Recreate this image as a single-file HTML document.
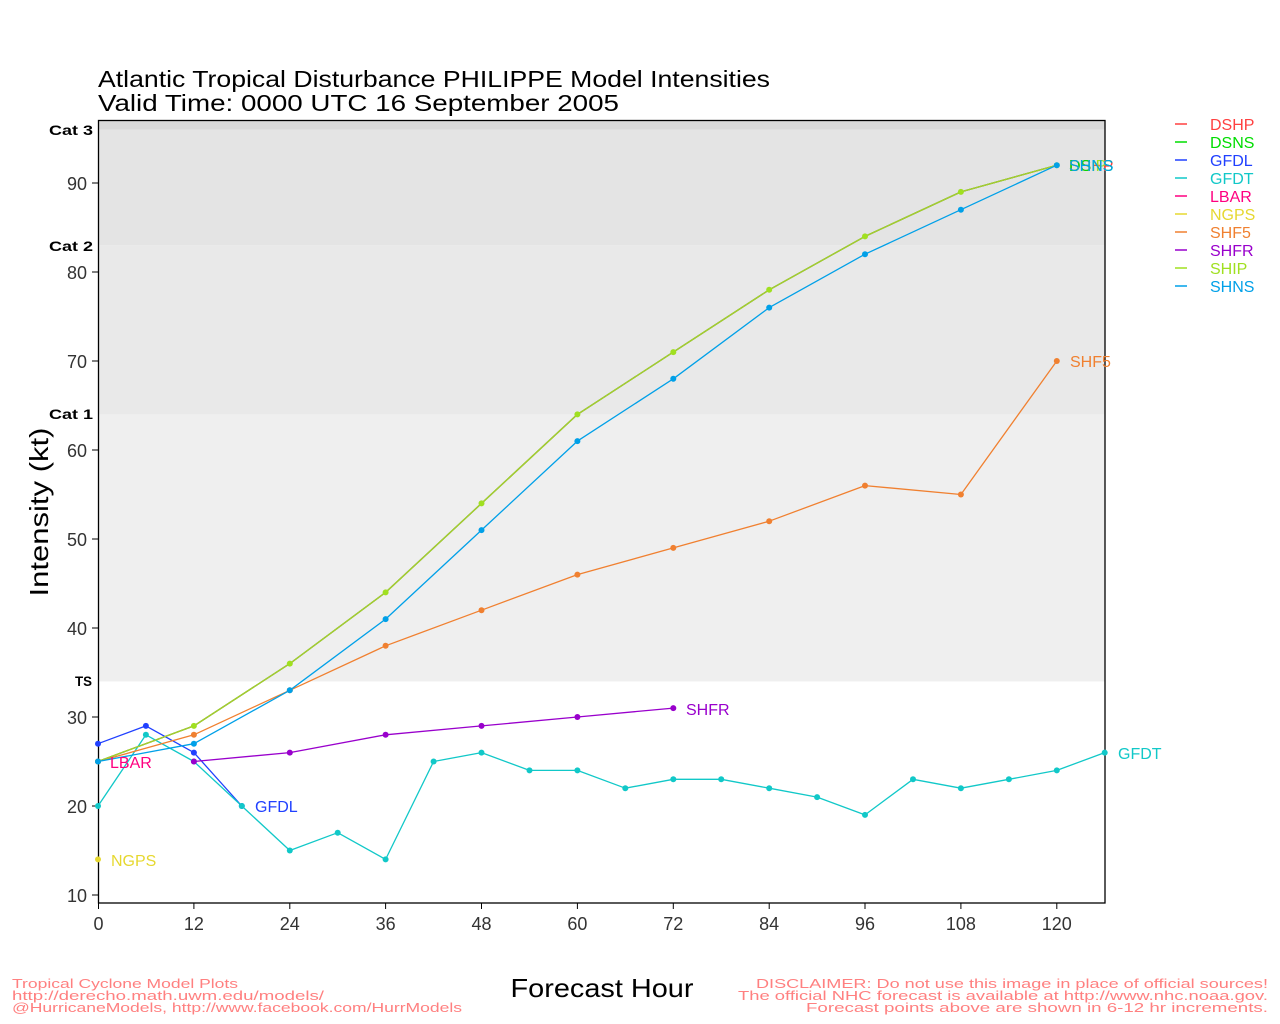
<!DOCTYPE html>
<html><head><meta charset="utf-8"><style>
html,body{margin:0;padding:0;background:#fff;}
svg{display:block;}
text{font-family:"Liberation Sans","DejaVu Sans",sans-serif;}
</style></head><body>
<svg width="1280" height="1024" viewBox="0 0 1280 1024" xmlns="http://www.w3.org/2000/svg">
<rect width="1280" height="1024" fill="#fff"/>
<!-- title -->
<text x="98" y="87" font-size="23" fill="#000" textLength="672" lengthAdjust="spacingAndGlyphs">Atlantic Tropical Disturbance PHILIPPE Model Intensities</text>
<text x="98" y="111" font-size="23" fill="#000" textLength="521" lengthAdjust="spacingAndGlyphs">Valid Time: 0000 UTC 16 September 2005</text>
<!-- bands -->
<rect x="98" y="120" width="1007" height="9.6" fill="#d9d9d9"/>
<rect x="98" y="129.6" width="1007" height="115.7" fill="#e4e4e4"/>
<rect x="98" y="245.3" width="1007" height="169.1" fill="#e9e9e9"/>
<rect x="98" y="414.4" width="1007" height="267" fill="#efefef"/>
<!-- frame -->
<rect x="98.5" y="120.5" width="1006.5" height="782.5" fill="none" stroke="#000" stroke-width="1.3"/>
<!-- cat labels -->
<g font-size="14" font-weight="bold" fill="#000">
<text x="49" y="135" textLength="44" lengthAdjust="spacingAndGlyphs">Cat 3</text>
<text x="49" y="251" textLength="44" lengthAdjust="spacingAndGlyphs">Cat 2</text>
<text x="49" y="419" textLength="44" lengthAdjust="spacingAndGlyphs">Cat 1</text>
<text x="75" y="686" textLength="17" lengthAdjust="spacingAndGlyphs">TS</text>
</g>
<!-- y ticks -->
<g stroke="#000" stroke-width="1">
<line x1="92" y1="183.0" x2="98" y2="183.0"/>
<line x1="92" y1="272.0" x2="98" y2="272.0"/>
<line x1="92" y1="361.0" x2="98" y2="361.0"/>
<line x1="92" y1="450.0" x2="98" y2="450.0"/>
<line x1="92" y1="539.0" x2="98" y2="539.0"/>
<line x1="92" y1="628.0" x2="98" y2="628.0"/>
<line x1="92" y1="717.0" x2="98" y2="717.0"/>
<line x1="92" y1="806.0" x2="98" y2="806.0"/>
<line x1="92" y1="895.0" x2="98" y2="895.0"/>
</g>
<g font-size="18" fill="#333" text-anchor="end">
<text x="87" y="190">90</text>
<text x="87" y="279">80</text>
<text x="87" y="368">70</text>
<text x="87" y="457">60</text>
<text x="87" y="546">50</text>
<text x="87" y="635">40</text>
<text x="87" y="724">30</text>
<text x="87" y="813">20</text>
<text x="87" y="902">10</text>
</g>
<!-- x ticks -->
<g stroke="#000" stroke-width="1">
<line x1="98.5" y1="903" x2="98.5" y2="909"/>
<line x1="193.9" y1="903" x2="193.9" y2="909"/>
<line x1="289.8" y1="903" x2="289.8" y2="909"/>
<line x1="385.6" y1="903" x2="385.6" y2="909"/>
<line x1="481.5" y1="903" x2="481.5" y2="909"/>
<line x1="577.4" y1="903" x2="577.4" y2="909"/>
<line x1="673.3" y1="903" x2="673.3" y2="909"/>
<line x1="769.2" y1="903" x2="769.2" y2="909"/>
<line x1="865" y1="903" x2="865" y2="909"/>
<line x1="960.9" y1="903" x2="960.9" y2="909"/>
<line x1="1056.8" y1="903" x2="1056.8" y2="909"/>
</g>
<g font-size="18" fill="#333" text-anchor="middle">
<text x="98.5" y="930">0</text>
<text x="193.9" y="930">12</text>
<text x="289.8" y="930">24</text>
<text x="385.6" y="930">36</text>
<text x="481.5" y="930">48</text>
<text x="577.4" y="930">60</text>
<text x="673.3" y="930">72</text>
<text x="769.2" y="930">84</text>
<text x="865" y="930">96</text>
<text x="960.9" y="930">108</text>
<text x="1056.8" y="930">120</text>
</g>
<!-- axis titles -->
<text x="48" y="512" font-size="26" fill="#000" text-anchor="middle" transform="rotate(-90 48 512)" textLength="169" lengthAdjust="spacingAndGlyphs">Intensity (kt)</text>
<text x="602" y="997" font-size="26" fill="#000" text-anchor="middle" textLength="183" lengthAdjust="spacingAndGlyphs">Forecast Hour</text>

<!-- series -->
<g fill="none" stroke-width="1.3" stroke-linejoin="round">
<polyline stroke="#ff4040" points="98,761.5 193.9,725.9 289.8,663.6 385.6,592.4 481.5,503.4 577.4,414.4 673.3,352.1 769.2,289.8 865,236.4 960.9,191.9 1056.8,165.2"/>
<polyline stroke="#00dd00" points="98,761.5 193.9,725.9 289.8,663.6 385.6,592.4 481.5,503.4 577.4,414.4 673.3,352.1 769.2,289.8 865,236.4 960.9,191.9 1056.8,165.2"/>
<polyline stroke="#2040ff" points="98,743.7 145.9,725.9 193.9,752.6 241.8,806"/>
<polyline stroke="#11c8c8" points="98,806 145.9,734.8 193.9,761.5 241.8,806 289.8,850.5 337.7,832.7 385.6,859.4 433.6,761.5 481.5,752.6 529.5,770.4 577.4,770.4 625.3,788.2 673.3,779.3 721.2,779.3 769.2,788.2 817.1,797.1 865,814.9 913,779.3 960.9,788.2 1008.9,779.3 1056.8,770.4 1104.7,752.6"/>
<polyline stroke="#f08030" points="98,761.5 193.9,734.8 289.8,690.3 385.6,645.8 481.5,610.2 577.4,574.6 673.3,547.9 769.2,521.2 865,485.6 960.9,494.5 1056.8,361"/>
<polyline stroke="#9900cc" points="193.9,761.5 289.8,752.6 385.6,734.8 481.5,725.9 577.4,717 673.3,708.1"/>
<polyline stroke="#a8cc30" points="98,761.5 193.9,725.9 289.8,663.6 385.6,592.4 481.5,503.4 577.4,414.4 673.3,352.1 769.2,289.8 865,236.4 960.9,191.9 1056.8,165.2"/>
<polyline stroke="#00a0e8" points="98,761.5 193.9,743.7 289.8,690.3 385.6,619.1 481.5,530.1 577.4,441.1 673.3,378.8 769.2,307.6 865,254.2 960.9,209.7 1056.8,165.2"/>
</g>
<!-- markers -->
<g fill="#2040ff">
<circle cx="98" cy="743.7" r="3"/><circle cx="145.9" cy="725.9" r="3"/><circle cx="193.9" cy="752.6" r="3"/><circle cx="241.8" cy="806" r="3"/>
</g>
<g fill="#11c8c8">
<circle cx="98" cy="806" r="3"/><circle cx="145.9" cy="734.8" r="3"/><circle cx="193.9" cy="761.5" r="3"/><circle cx="241.8" cy="806" r="3"/><circle cx="289.8" cy="850.5" r="3"/><circle cx="337.7" cy="832.7" r="3"/><circle cx="385.6" cy="859.4" r="3"/><circle cx="433.6" cy="761.5" r="3"/><circle cx="481.5" cy="752.6" r="3"/><circle cx="529.5" cy="770.4" r="3"/><circle cx="577.4" cy="770.4" r="3"/><circle cx="625.3" cy="788.2" r="3"/><circle cx="673.3" cy="779.3" r="3"/><circle cx="721.2" cy="779.3" r="3"/><circle cx="769.2" cy="788.2" r="3"/><circle cx="817.1" cy="797.1" r="3"/><circle cx="865" cy="814.9" r="3"/><circle cx="913" cy="779.3" r="3"/><circle cx="960.9" cy="788.2" r="3"/><circle cx="1008.9" cy="779.3" r="3"/><circle cx="1056.8" cy="770.4" r="3"/><circle cx="1104.7" cy="752.6" r="3"/>
</g>
<circle cx="98" cy="761.5" r="3" fill="#ff0080"/>
<circle cx="98" cy="859.4" r="3" fill="#e6d830"/>
<g fill="#f08030">
<circle cx="98" cy="761.5" r="3"/><circle cx="193.9" cy="734.8" r="3"/><circle cx="289.8" cy="690.3" r="3"/><circle cx="385.6" cy="645.8" r="3"/><circle cx="481.5" cy="610.2" r="3"/><circle cx="577.4" cy="574.6" r="3"/><circle cx="673.3" cy="547.9" r="3"/><circle cx="769.2" cy="521.2" r="3"/><circle cx="865" cy="485.6" r="3"/><circle cx="960.9" cy="494.5" r="3"/><circle cx="1056.8" cy="361" r="3"/>
</g>
<g fill="#9900cc">
<circle cx="193.9" cy="761.5" r="3"/><circle cx="289.8" cy="752.6" r="3"/><circle cx="385.6" cy="734.8" r="3"/><circle cx="481.5" cy="725.9" r="3"/><circle cx="577.4" cy="717" r="3"/><circle cx="673.3" cy="708.1" r="3"/>
</g>
<g fill="#a0e020">
<circle cx="98" cy="761.5" r="3"/><circle cx="193.9" cy="725.9" r="3"/><circle cx="289.8" cy="663.6" r="3"/><circle cx="385.6" cy="592.4" r="3"/><circle cx="481.5" cy="503.4" r="3"/><circle cx="577.4" cy="414.4" r="3"/><circle cx="673.3" cy="352.1" r="3"/><circle cx="769.2" cy="289.8" r="3"/><circle cx="865" cy="236.4" r="3"/><circle cx="960.9" cy="191.9" r="3"/><circle cx="1056.8" cy="165.2" r="3"/>
</g>
<g fill="#00a0e8">
<circle cx="98" cy="761.5" r="3"/><circle cx="193.9" cy="743.7" r="3"/><circle cx="289.8" cy="690.3" r="3"/><circle cx="385.6" cy="619.1" r="3"/><circle cx="481.5" cy="530.1" r="3"/><circle cx="577.4" cy="441.1" r="3"/><circle cx="673.3" cy="378.8" r="3"/><circle cx="769.2" cy="307.6" r="3"/><circle cx="865" cy="254.2" r="3"/><circle cx="960.9" cy="209.7" r="3"/><circle cx="1056.8" cy="165.2" r="3"/>
</g>
<!-- end labels -->
<g font-size="16">
<text x="110" y="768" fill="#ff0080">LBAR</text>
<text x="255" y="812" fill="#2040ff">GFDL</text>
<text x="111" y="866" fill="#e6d830">NGPS</text>
<text x="686" y="715" fill="#9900cc">SHFR</text>
<text x="1070" y="367" fill="#f08030">SHF5</text>
<text x="1118" y="759" fill="#11c8c8">GFDT</text>
<text x="1069" y="171" fill="#ff4040">DSHP</text>
<text x="1069" y="171" fill="#00dd00">DSNS</text>
<text x="1069" y="171" fill="#a0e020">SHIP</text>
<text x="1069" y="171" fill="#00a0e8">SHNS</text>
</g>
<!-- legend -->
<g stroke-width="1.5">
<line x1="1175" y1="124" x2="1187" y2="124" stroke="#ff4040"/>
<line x1="1175" y1="142" x2="1187" y2="142" stroke="#00dd00"/>
<line x1="1175" y1="160" x2="1187" y2="160" stroke="#2040ff"/>
<line x1="1175" y1="178" x2="1187" y2="178" stroke="#11c8c8"/>
<line x1="1175" y1="196" x2="1187" y2="196" stroke="#ff0080"/>
<line x1="1175" y1="214" x2="1187" y2="214" stroke="#e6d830"/>
<line x1="1175" y1="232" x2="1187" y2="232" stroke="#f08030"/>
<line x1="1175" y1="250" x2="1187" y2="250" stroke="#9900cc"/>
<line x1="1175" y1="268" x2="1187" y2="268" stroke="#a0e020"/>
<line x1="1175" y1="286" x2="1187" y2="286" stroke="#00a0e8"/>
</g>
<g font-size="16">
<text x="1210" y="130" fill="#ff4040">DSHP</text>
<text x="1210" y="148" fill="#00dd00">DSNS</text>
<text x="1210" y="166" fill="#2040ff">GFDL</text>
<text x="1210" y="184" fill="#11c8c8">GFDT</text>
<text x="1210" y="202" fill="#ff0080">LBAR</text>
<text x="1210" y="220" fill="#e6d830">NGPS</text>
<text x="1210" y="238" fill="#f08030">SHF5</text>
<text x="1210" y="256" fill="#9900cc">SHFR</text>
<text x="1210" y="274" fill="#a0e020">SHIP</text>
<text x="1210" y="292" fill="#00a0e8">SHNS</text>
</g>
<!-- footer -->
<g font-size="13" fill="#ff8080">
<text x="12" y="988" textLength="226" lengthAdjust="spacingAndGlyphs">Tropical Cyclone Model Plots</text>
<text x="12" y="1000" textLength="312" lengthAdjust="spacingAndGlyphs">http://derecho.math.uwm.edu/models/</text>
<text x="12" y="1012" textLength="450" lengthAdjust="spacingAndGlyphs">@HurricaneModels, http://www.facebook.com/HurrModels</text>
</g>
<g font-size="13" fill="#ff8080" text-anchor="end">
<text x="1268" y="988" textLength="512" lengthAdjust="spacingAndGlyphs">DISCLAIMER: Do not use this image in place of official sources!</text>
<text x="1268" y="1000" textLength="530" lengthAdjust="spacingAndGlyphs">The official NHC forecast is available at http://www.nhc.noaa.gov.</text>
<text x="1268" y="1012" textLength="462" lengthAdjust="spacingAndGlyphs">Forecast points above are shown in 6-12 hr increments.</text>
</g>
</svg>
</body></html>
